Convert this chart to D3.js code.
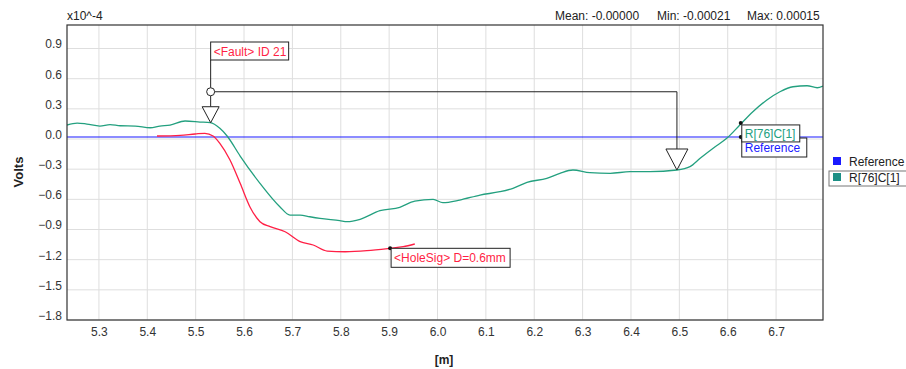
<!DOCTYPE html>
<html>
<head>
<meta charset="utf-8">
<script src="https://cdn.jsdelivr.net/npm/d3@7/dist/d3.min.js"></script>
<style>
  body { margin: 0; background: #fff; }
  svg { display: block; font-family: "Liberation Sans", Arial, sans-serif; }
</style>
</head>
<body>
<svg id="chart" width="906" height="369"></svg>
<script>
// values (y in units of 1e-4 V)
var greenX = [5.234, 5.255, 5.275, 5.302, 5.323, 5.344, 5.375, 5.406, 5.426, 5.447, 5.478, 5.509, 5.530,
    5.550, 5.565, 5.592, 5.633, 5.674, 5.695, 5.716, 5.736, 5.757, 5.798, 5.813, 5.840, 5.881, 5.922,
    5.953, 5.991, 6.011, 6.046, 6.088, 6.129, 6.156, 6.185, 6.226, 6.253, 6.280, 6.315, 6.357, 6.398,
    6.439, 6.495, 6.522, 6.543, 6.574, 6.598, 6.625, 6.652, 6.681, 6.708, 6.735, 6.764, 6.785, 6.797];
var greenY = [0.139, 0.159, 0.149, 0.129, 0.144, 0.132, 0.129, 0.112, 0.129, 0.139, 0.179, 0.169, 0.162,
    0.106, 0.030, -0.169, -0.441, -0.673, -0.756, -0.756, -0.773, -0.789, -0.812, -0.822, -0.799, -0.713, -0.679,
    -0.617, -0.600, -0.633, -0.607, -0.557, -0.524, -0.490, -0.431, -0.391, -0.341, -0.308, -0.335, -0.341, -0.325,
    -0.325, -0.308, -0.275, -0.192, -0.077, 0.007, 0.139, 0.271, 0.388, 0.470, 0.520, 0.530, 0.510, 0.527];

var redX = [5.420, 5.468, 5.499, 5.519, 5.536, 5.550, 5.571, 5.592, 5.612, 5.633, 5.654, 5.685,
    5.716, 5.743, 5.772, 5.809, 5.854, 5.902, 5.929, 5.953];
var redY = [0.030, 0.037, 0.050, 0.057, 0.030, -0.043, -0.209, -0.441, -0.673, -0.822, -0.872, -0.922,
    -1.021, -1.054, -1.114, -1.121, -1.111, -1.087, -1.071, -1.044];

var referenceValue = 0.02;

var xTicks = [5.3, 5.4, 5.5, 5.6, 5.7, 5.8, 5.9, 6.0, 6.1, 6.2, 6.3, 6.4, 6.5, 6.6, 6.7];
var yTicks = [0.9, 0.6, 0.3, 0.0, -0.3, -0.6, -0.9, -1.2, -1.5, -1.8];

var statLabels = ['Mean: -0.00000', 'Min: -0.00021', 'Max: 0.00015'];
var legendNames = ['Reference', 'R[76]C[1]'];

// annotations
var fault = { x: 5.531, y: 0.162, label: '<Fault> ID 21', x2: 6.495, y2: -0.308, link: 0.47 };
var hole = { x: 5.902, y: -1.087, label: '<HoleSig> D=0.6mm' };
var cursor = { x: 6.627, y: 0.16, label: 'R[76]C[1]', refLabel: 'Reference' };

var cGreen = '#23a07f', cRed = '#ff1f45', cBlue = '#1a1aff';

var svg = d3.select('#chart');
var L = 67, R = 823, T = 25, B = 320;

var x = d3.scaleLinear().domain([5.234, 6.797]).range([L, R]);
var y = d3.scaleLinear().domain([-1.8, 1.134]).range([B, T]);

svg.append('clipPath').attr('id', 'plot').append('rect')
    .attr('x', L).attr('y', T).attr('width', R - L).attr('height', B - T);

// grid
svg.append('g').selectAll('line').data(xTicks).enter().append('line')
    .attr('x1', d => x(d)).attr('x2', d => x(d)).attr('y1', T).attr('y2', B)
    .attr('stroke', '#dedede');
svg.append('g').selectAll('line').data(yTicks).enter().append('line')
    .attr('x1', L).attr('x2', R).attr('y1', d => y(d)).attr('y2', d => y(d))
    .attr('stroke', '#dedede');

// axes (labels only, no tick marks)
var xAxis = svg.append('g').attr('transform', 'translate(0,' + B + ')')
    .call(d3.axisBottom(x).tickValues(xTicks).tickFormat(d3.format('.1f')).tickSize(0).tickPadding(7));
var yAxis = svg.append('g').attr('transform', 'translate(' + L + ',0)')
    .call(d3.axisLeft(y).tickValues(yTicks).tickFormat(d3.format('.1f')).tickSize(0).tickPadding(5));
[xAxis, yAxis].forEach(g => {
    g.select('.domain').remove();
    g.selectAll('text').attr('font-size', 12).attr('fill', '#333')
        .attr('font-family', '"Liberation Sans", Arial, sans-serif');
});
yAxis.selectAll('text').attr('dy', '-0.05em');

// series
var line = d3.line().x(d => x(d[0])).y(d => y(d[1])).curve(d3.curveMonotoneX);
var plot = svg.append('g').attr('clip-path', 'url(#plot)');
plot.append('path').datum(x.domain().map(d => [d, referenceValue]))
    .attr('d', line).attr('fill', 'none').attr('stroke', cBlue).attr('stroke-width', 1.2);
plot.append('path').datum(d3.zip(greenX, greenY))
    .attr('d', line).attr('fill', 'none').attr('stroke', cGreen).attr('stroke-width', 1.3);
plot.append('path').datum(d3.zip(redX, redY))
    .attr('d', line).attr('fill', 'none').attr('stroke', cRed).attr('stroke-width', 1.3);

// plot border
svg.append('rect').attr('x', L).attr('y', T).attr('width', R - L).attr('height', B - T)
    .attr('fill', 'none').attr('stroke', '#333').attr('stroke-width', 1.2);

// fault annotation
var fx = x(fault.x), fyTip = y(fault.y), fLink = y(fault.link);
var fx2 = x(fault.x2), fyTip2 = y(fault.y2);
var ann = svg.append('g').attr('stroke', '#222').attr('fill', 'none');
ann.append('path').attr('d', 'M' + fx + ',' + (fLink - 4) + 'V60');
ann.append('path').attr('d', 'M' + (fx + 4) + ',' + fLink + 'H' + fx2 + 'V' + (fyTip2 - 21));
ann.append('path').attr('d', 'M' + fx + ',' + (fLink + 4) + 'V' + (fyTip - 16));
ann.append('circle').attr('cx', fx).attr('cy', fLink).attr('r', 4).attr('fill', '#fff');
ann.append('path').attr('fill', '#fff')
    .attr('d', 'M' + (fx - 8.5) + ',' + (fyTip - 16) + 'h17L' + fx + ',' + fyTip + 'Z');
ann.append('path').attr('fill', '#fff')
    .attr('d', 'M' + (fx2 - 11) + ',' + (fyTip2 - 21) + 'h22L' + fx2 + ',' + fyTip2 + 'Z');

function labelBox(x0, y0, w, h, txt, color) {
    svg.append('rect').attr('x', x0).attr('y', y0).attr('width', w).attr('height', h)
        .attr('fill', '#fff').attr('stroke', '#222');
    svg.append('text').attr('x', x0 + 3).attr('y', y0 + h / 2 + 4.5)
        .attr('font-size', 12).attr('fill', color).text(txt);
}
labelBox(fx, 42, 78, 18, fault.label, cRed);

// hole signature
var hx = x(hole.x), hy = y(hole.y);
svg.append('circle').attr('cx', hx).attr('cy', hy).attr('r', 2).attr('fill', '#111');
labelBox(hx + 1, hy, 119, 19, hole.label, cRed);

// cursor labels
var cx = x(cursor.x);
labelBox(cx + 1, y(referenceValue) + 1, 65, 19, cursor.refLabel, cBlue);
svg.append('circle').attr('cx', cx).attr('cy', y(referenceValue)).attr('r', 2).attr('fill', '#111');
labelBox(cx + 1, y(cursor.y) + 2, 58, 17, cursor.label, cGreen);
svg.append('circle').attr('cx', cx).attr('cy', y(cursor.y)).attr('r', 2).attr('fill', '#111');

// top texts
svg.append('text').attr('x', L).attr('y', 20).attr('font-size', 12).attr('fill', '#222').text('x10^-4');
var statX = [555, 657, 747];
svg.append('g').selectAll('text').data(statLabels).enter().append('text')
    .attr('x', (d, i) => statX[i]).attr('y', 20).attr('font-size', 12).attr('fill', '#222')
    .text(d => d);

// axis titles
svg.append('text').attr('transform', 'translate(23,172) rotate(-90)').attr('text-anchor', 'middle')
    .attr('font-size', 13).attr('font-weight', 'bold').attr('fill', '#222').text('Volts');
svg.append('text').attr('x', 444).attr('y', 364).attr('text-anchor', 'middle')
    .attr('font-size', 12).attr('font-weight', 'bold').attr('fill', '#222').text('[m]');

// legend
var legColors = [cBlue, '#1c8f85'];
svg.append('rect').attr('x', 829).attr('y', 171).attr('width', 90).attr('height', 15)
    .attr('fill', 'none').attr('stroke', '#777');
var leg = svg.append('g').selectAll('g').data(legendNames).enter().append('g')
    .attr('transform', (d, i) => 'translate(833,' + (157 + i * 16) + ')');
leg.append('rect').attr('width', 8).attr('height', 8).attr('fill', (d, i) => legColors[i]);
leg.append('text').attr('x', 16).attr('y', 8.5).attr('font-size', 12).attr('fill', '#222').text(d => d);
</script>
</body>
</html>
